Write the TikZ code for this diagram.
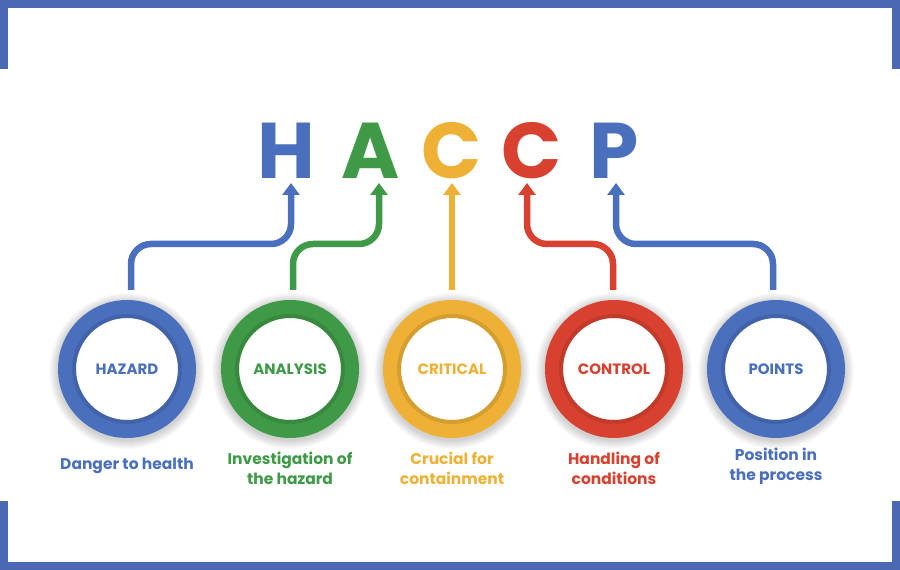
\documentclass[tikz,border=0pt]{standalone}
\usepackage{fontspec}
\setmainfont{Poppins}
\usetikzlibrary{arrows.meta}
\definecolor{cblue}{HTML}{4A6FBD}
\definecolor{cgreen}{HTML}{3F9A47}
\definecolor{cyellow}{HTML}{EEB136}
\definecolor{cred}{HTML}{D8412F}
\definecolor{fblue}{HTML}{4A69B2}
\begin{document}
\begin{tikzpicture}[x=1pt,y=1pt,
  ring/.style={circle, draw=#1, line width=18pt, minimum size=120pt, inner sep=0pt, fill=white,
    font=\bfseries\fontsize{15}{18}\selectfont, text=#1},
  conn/.style={draw=#1, line width=6.5pt, rounded corners=20pt, -{Triangle[width=17pt,length=12pt]}},
  big/.style={font=\bfseries\fontsize{79}{80}\selectfont, text=#1, inner sep=0pt, outer sep=0pt, anchor=base},
  desc/.style={font=\bfseries\fontsize{15.5}{20}\selectfont, text=#1, align=center}
]
\useasboundingbox (0,0) rectangle (900,570);
\fill[white] (0,0) rectangle (900,570);
% frame
\fill[fblue] (0,562) rectangle (900,570);
\fill[fblue] (0,501) rectangle (8,570);
\fill[fblue] (892,501) rectangle (900,570);
\fill[fblue] (0,0) rectangle (900,8);
\fill[fblue] (0,0) rectangle (8,69);
\fill[fblue] (892,0) rectangle (900,69);
% soft shadows
\foreach \cx in {127,290,452,614,776}{
  \foreach \r in {70,71,...,78}{
    \fill[black, opacity=0.018] (\cx,199) circle (\r);
  }
}
% circles
\node[ring=cblue]   (hz) at (127,201) {HAZARD};
\node[ring=cgreen]  (an) at (290,201) {ANALYSIS};
\node[ring=cyellow] (cr) at (452,201) {CRITICAL};
\node[ring=cred]    (co) at (614,201) {CONTROL};
\node[ring=cblue]   (po) at (776,201) {POINTS};
\foreach \n/\c in {hz/cblue,an/cgreen,cr/cyellow,co/cred,po/cblue}{
  \draw[\c!70!black, opacity=0.35, line width=4pt] (\n.center) circle (53);
}
% letters
\node[big=cblue]   (H)  at (286,391) {H};
\node[big=cgreen]  (A)  at (371,391) {A};
\node[big=cyellow] (C1) at (452,391) {C};
\node[big=cred]    (C2) at (532,391) {C};
\node[big=cblue]   (P)  at (614,391) {P};
% arrow end points
\coordinate (tH)  at (291,387);
\coordinate (tA)  at (379,387);
\coordinate (tC1) at (452,387);
\coordinate (tC2) at (527,387);
\coordinate (tP)  at (616,387);
% connectors
\draw[conn=cblue]   ([xshift=4pt,yshift=10pt]hz.north) -- ++(0,46) -| (tH);
\draw[conn=cgreen]  ([xshift=3pt,yshift=10pt]an.north) -- ++(0,46) -| (tA);
\draw[conn=cyellow] ([yshift=10pt]cr.north) -- (tC1);
\draw[conn=cred]    ([xshift=-1pt,yshift=10pt]co.north) -- ++(0,46) -| (tC2);
\draw[conn=cblue]   ([xshift=-3pt,yshift=10pt]po.north) -- ++(0,46) -| (tP);
% descriptions
\node[desc=cblue]   (d1) at (127,104) {Danger to health};
\node[desc=cgreen]  (d2) at (290,102) {Investigation of\\the hazard};
\node[desc=cyellow] (d3) at (452,102) {Crucial for\\containment};
\node[desc=cred]    (d4) at (614,102) {Handling of\\conditions};
\node[desc=cblue]   (d5) at (776,104) {Position in\\the process};
\end{tikzpicture}
\end{document}
